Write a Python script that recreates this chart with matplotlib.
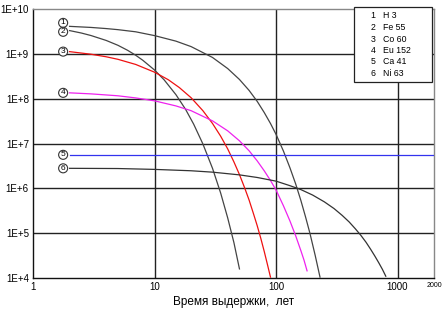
import matplotlib
matplotlib.use('Agg')
import matplotlib.pyplot as plt
import matplotlib.ticker as mticker
from matplotlib.patches import Rectangle

plt.rcParams['font.family'] = ['Liberation Sans', 'DejaVu Sans']

# Activity vs cooling time
h3_t = [2, 3, 4, 5, 7, 10, 15, 20, 30, 40, 50, 60, 70, 80, 90, 100,
        115, 130, 145, 160, 175, 190, 210, 230]
h3_a = [4.1e9, 3.88e9, 3.66e9, 3.46e9, 3.1e9, 2.55e9, 1.92e9, 1.45e9, 8.3e8,
        4.7e8, 2.68e8, 1.53e8, 8.7e7, 4.9e7, 2.8e7, 1.6e7,
        6.8e6, 2.9e6, 1.26e6, 5.4e5, 2.3e5, 1.0e5, 3.2e4, 1.05e4]

fe55_t = [2, 2.5, 3, 4, 5, 6, 7, 8, 10, 12, 15, 18, 21, 25, 30, 35, 40, 45, 50]
fe55_a = [3.3e9, 2.91e9, 2.56e9, 1.99e9, 1.55e9, 1.2e9, 9.3e8, 7.2e8, 4.36e8,
          2.63e8, 1.23e8, 5.8e7, 2.7e7, 9.8e6, 2.8e6, 7.9e5, 2.2e5, 6.2e4, 1.6e4]

co60_t = [2, 3, 4, 5, 7, 10, 13, 16, 20, 25, 30, 35, 40, 45, 50, 55, 60,
          65, 70, 75, 80, 85, 90]
co60_a = [1.12e9, 9.8e8, 8.6e8, 7.55e8, 5.8e8, 3.9e8, 2.64e8, 1.77e8, 1.05e8,
          5.4e7, 2.8e7, 1.46e7, 7.6e6, 3.9e6, 2.03e6, 1.05e6, 5.5e5,
          2.8e5, 1.47e5, 7.6e4, 3.9e4, 2.0e4, 1.05e4]

eu152_t = [2, 3, 5, 7, 10, 15, 20, 30, 40, 50, 60, 70, 80, 90, 100,
           115, 130, 145, 160, 170, 180]
eu152_a = [1.35e8, 1.28e8, 1.16e8, 1.04e8, 8.95e7, 6.9e7, 5.4e7, 3.2e7, 1.92e7,
           1.15e7, 6.9e6, 4.1e6, 2.46e6, 1.5e6, 9.2e5,
           4.1e5, 1.89e5, 8.8e4, 4.1e4, 2.5e4, 1.45e4]

ca41_t = [2, 2000]
ca41_a = [5.6e6, 5.6e6]

ni63_t = [2, 5, 10, 20, 30, 50, 70, 100, 130, 160, 200, 250, 300, 350,
          400, 450, 500, 550, 600, 650, 700, 750, 800]
ni63_a = [2.8e6, 2.77e6, 2.65e6, 2.47e6, 2.3e6, 2.0e6, 1.75e6, 1.45e6, 1.15e6,
          9.4e5, 7.1e5, 5.0e5, 3.55e5, 2.5e5, 1.78e5, 1.25e5, 8.9e4, 6.3e4,
          4.4e4, 3.1e4, 2.2e4, 1.57e4, 1.1e4]

legend_names = ['H 3', 'Fe 55', 'Co 60', 'Eu 152', 'Ca 41', 'Ni 63']
y_ticks = [1e4, 1e5, 1e6, 1e7, 1e8, 1e9, 1e10]
y_labels = ['1E+4', '1E+5', '1E+6', '1E+7', '1E+8', '1E+9', '1E+10']
x_ticks = [1, 10, 100, 1000]
x_labels = ['1', '10', '100', '1000']

series = [(h3_t, h3_a, '#444444'), (fe55_t, fe55_a, '#444444'),
          (co60_t, co60_a, '#ee1111'), (eu152_t, eu152_a, '#ee22ee'),
          (ca41_t, ca41_a, '#3333ee'), (ni63_t, ni63_a, '#333333')]

fig = plt.figure(figsize=(4.43, 3.10), dpi=100)
ax = fig.add_axes([0.0745, 0.103, 0.9055, 0.868])
ax.set_xscale('log')
ax.set_yscale('log')
ax.set_xlim(1, 2000)
ax.set_ylim(1e4, 1e10)

# grid only at decades
for y in y_ticks[1:-1]:
    ax.axhline(y, color='#222222', lw=1.0, zorder=1)
for x in x_ticks[1:]:
    ax.axvline(x, color='#222222', lw=1.0, zorder=1)

for t, a, c in series:
    ax.plot(t, a, color=c, lw=0.9, zorder=3)

# numbered circle labels at curve starts
label_y = [4.9e9, 3.1e9, 1.12e9, 1.35e8, 5.6e6, 2.8e6]
for i, y in enumerate(label_y):
    ax.text(1.77, y, str(i + 1), fontsize=6, ha='center', va='center', zorder=4,
            bbox=dict(boxstyle='circle,pad=0.12', fc='white', ec='#333333', lw=0.8))

ax.set_yticks(y_ticks)
ax.set_yticklabels(y_labels)
ax.set_xticks(x_ticks + [2000])
ax.set_xticklabels(x_labels + ['2000'])
ax.xaxis.set_minor_locator(mticker.NullLocator())
ax.yaxis.set_minor_locator(mticker.NullLocator())
ax.tick_params(length=0, labelsize=7, pad=3)
ax.get_xticklabels()[-1].set_fontsize(5)
ax.set_xlabel('Время выдержки,  лет', fontsize=8.5, labelpad=3)

for s in ax.spines.values():
    s.set_linewidth(1.0)
    s.set_color('#111111')
ax.spines['top'].set_color('#888888')
ax.spines['right'].set_color('#888888')

# legend box
ax.add_patch(Rectangle((0.800, 0.729), 0.195, 0.277, transform=ax.transAxes,
                       fc='white', ec='#222222', lw=0.9, zorder=5, clip_on=False))
row_y = [0.974, 0.931, 0.888, 0.846, 0.803, 0.760]
for i, (n, y) in enumerate(zip(legend_names, row_y)):
    ax.text(0.847, y, str(i + 1), transform=ax.transAxes, fontsize=6.3,
            ha='center', va='center', zorder=6)
    ax.text(0.873, y, n, transform=ax.transAxes, fontsize=6.3,
            ha='left', va='center', zorder=6)

fig.savefig('out.png', dpi=100)
